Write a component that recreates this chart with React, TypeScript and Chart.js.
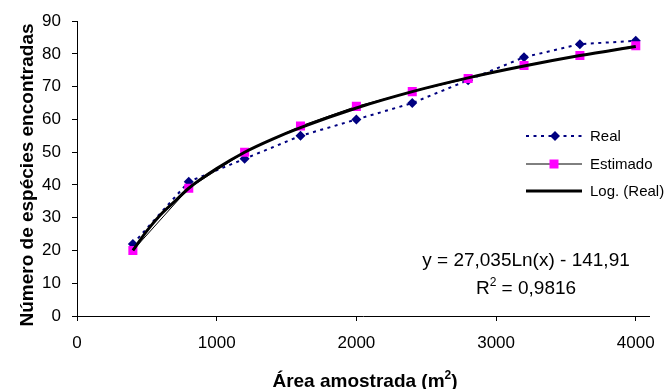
import React, { useEffect, useRef } from 'react';
import { Chart, registerables } from 'chart.js';

Chart.register(...registerables);

const areaValues = [400, 800, 1200, 1600, 2000, 2400, 2800, 3200, 3600, 4000];
const realValues = [22, 41, 48, 55, 60, 65, 72, 79, 83, 84];
const estimadoValues = [20, 39, 50, 58, 64, 68.5, 72.5, 76.5, 79.5, 82.5];
const trendAreas = [400, 500, 600, 700, 800, 1000, 1200, 1400, 1600, 2000, 2400, 2800, 3200, 3600, 4000];
const trendValues = [20, 26, 31, 35, 39, 45, 50, 54, 57.5, 63.5, 68.5, 72.7, 76.3, 79.5, 82.3];
const xTickValues = [0, 1000, 2000, 3000, 4000];
const yTickValues = [0, 10, 20, 30, 40, 50, 60, 70, 80, 90];
const legendLabels = ['Real', 'Estimado', 'Log. (Real)'];
const equationLine = 'y = 27,035Ln(x) - 141,91';
const r2Value = '0,9816';
const xTitle = 'Área amostrada (m';
const yTitle = 'Número de espécies encontradas';

const FONT = '"Liberation Sans", Arial, sans-serif';
const NAVY = '#000080';
const MAGENTA = '#FF00FF';

function drawSupText(ctx: CanvasRenderingContext2D, parts: { t: string; sup?: boolean }[], cx: number, baseY: number, size: number, bold: boolean) {
  const w = bold ? 'bold ' : '';
  const mainFont = `${w}${size}px ${FONT}`;
  const supFont = `${w}${Math.round(size * 0.62)}px ${FONT}`;
  let total = 0;
  for (const p of parts) {
    ctx.font = p.sup ? supFont : mainFont;
    total += ctx.measureText(p.t).width;
  }
  let x = cx - total / 2;
  ctx.textAlign = 'left';
  ctx.textBaseline = 'alphabetic';
  for (const p of parts) {
    ctx.font = p.sup ? supFont : mainFont;
    ctx.fillText(p.t, x, p.sup ? baseY - size * 0.42 : baseY);
    x += ctx.measureText(p.t).width;
  }
}

const overlayPlugin = {
  id: 'overlay',
  afterDraw(chart: any) {
    const ctx: CanvasRenderingContext2D = chart.ctx;
    ctx.save();
    ctx.fillStyle = '#000';

    // Legend
    const lx0 = 526, lx1 = 582, tx = 590;
    const ly = [136, 164, 191];
    // Real
    ctx.strokeStyle = NAVY;
    ctx.lineWidth = 2;
    ctx.setLineDash([3, 4.5]);
    ctx.beginPath(); ctx.moveTo(lx0, ly[0]); ctx.lineTo(lx1, ly[0]); ctx.stroke();
    ctx.setLineDash([]);
    ctx.fillStyle = NAVY;
    const dx = 555, dr = 5;
    ctx.beginPath(); ctx.moveTo(dx, ly[0] - dr); ctx.lineTo(dx + dr, ly[0]); ctx.lineTo(dx, ly[0] + dr); ctx.lineTo(dx - dr, ly[0]); ctx.closePath(); ctx.fill();
    // Estimado
    ctx.strokeStyle = '#000';
    ctx.lineWidth = 1;
    ctx.beginPath(); ctx.moveTo(lx0, ly[1]); ctx.lineTo(lx1, ly[1]); ctx.stroke();
    ctx.fillStyle = MAGENTA;
    ctx.fillRect(554 - 4.5, ly[1] - 4.5, 9, 9);
    // Log
    ctx.lineWidth = 3;
    ctx.beginPath(); ctx.moveTo(lx0, ly[2]); ctx.lineTo(lx1, ly[2]); ctx.stroke();

    ctx.fillStyle = '#000';
    ctx.font = `15px ${FONT}`;
    ctx.textAlign = 'left';
    ctx.textBaseline = 'middle';
    legendLabels.forEach((l, i) => ctx.fillText(l, tx, ly[i] + 1));

    // Equation
    ctx.font = `19px ${FONT}`;
    ctx.textAlign = 'center';
    ctx.textBaseline = 'alphabetic';
    ctx.fillText(equationLine, 526, 266);
    drawSupText(ctx, [{ t: 'R' }, { t: '2', sup: true }, { t: ' = ' + r2Value }], 526, 294, 19, false);

    // X title
    drawSupText(ctx, [{ t: xTitle }, { t: '2', sup: true }, { t: ')' }], 365, 387, 19, true);

    // Y title
    ctx.save();
    ctx.translate(33, 175);
    ctx.rotate(-Math.PI / 2);
    ctx.font = `bold 19px ${FONT}`;
    ctx.textAlign = 'center';
    ctx.textBaseline = 'alphabetic';
    ctx.fillText(yTitle, 0, 0);
    ctx.restore();

    ctx.restore();
  },
};

export default function App() {
  const ref = useRef<HTMLCanvasElement>(null);
  useEffect(() => {
    if (!ref.current) return;
    const chart = new Chart(ref.current, {
      type: 'line',
      data: {
        datasets: [
          {
            label: 'Log. (Real)',
            data: trendAreas.map((x, i) => ({ x, y: trendValues[i] })),
            borderColor: '#000',
            borderWidth: 3,
            pointRadius: 0,
            cubicInterpolationMode: 'monotone',
            fill: false,
            order: 0,
          },
          {
            label: 'Estimado',
            data: areaValues.map((x, i) => ({ x, y: estimadoValues[i] })),
            borderColor: '#000',
            borderWidth: 1,
            pointStyle: 'rect',
            pointRadius: 6.4,
            pointBackgroundColor: MAGENTA,
            pointBorderWidth: 0,
            pointBorderColor: MAGENTA,
            tension: 0,
            fill: false,
            order: 1,
          },
          {
            label: 'Real',
            data: areaValues.map((x, i) => ({ x, y: realValues[i] })),
            borderColor: NAVY,
            borderWidth: 2,
            borderDash: [3, 4.5],
            pointStyle: 'rectRot',
            pointRadius: 5,
            pointBackgroundColor: NAVY,
            pointBorderColor: NAVY,
            pointBorderWidth: 0,
            tension: 0,
            fill: false,
            order: 2,
          },
        ],
      },
      options: {
        responsive: false,
        animation: false,
        events: [],
        layout: { padding: { left: 0, top: 20, right: 13, bottom: 0 } },
        plugins: { legend: { display: false }, tooltip: { enabled: false } },
        scales: {
          x: {
            type: 'linear',
            min: 0,
            max: 4100,
            afterBuildTicks: (s: any) => { s.ticks = xTickValues.map((v) => ({ value: v })); },
            afterFit: (s: any) => { s.height = 73; },
            ticks: { font: { size: 17, family: FONT }, color: '#000', padding: 12, maxRotation: 0, callback: (v: any) => String(v) },
            grid: { drawOnChartArea: false, drawTicks: true, tickLength: 5, color: '#000' },
            border: { display: true, color: '#000', width: 1 },
          },
          y: {
            type: 'linear',
            min: 0,
            max: 90,
            afterBuildTicks: (s: any) => { s.ticks = yTickValues.map((v) => ({ value: v })); },
            afterFit: (s: any) => { s.width = 77; },
            ticks: { font: { size: 17, family: FONT }, color: '#000', padding: 11, callback: (v: any) => String(v) },
            grid: { drawOnChartArea: false, drawTicks: true, tickLength: 5, color: '#000' },
            border: { display: true, color: '#000', width: 1 },
          },
        },
      },
      plugins: [overlayPlugin],
    } as any);
    return () => chart.destroy();
  }, []);
  return (
    <div style={{ position: 'fixed', left: 0, top: 0, width: 667, height: 389, background: '#fff' }}>
      <canvas ref={ref} width={667} height={389} style={{ display: 'block' }} />
    </div>
  );
}
